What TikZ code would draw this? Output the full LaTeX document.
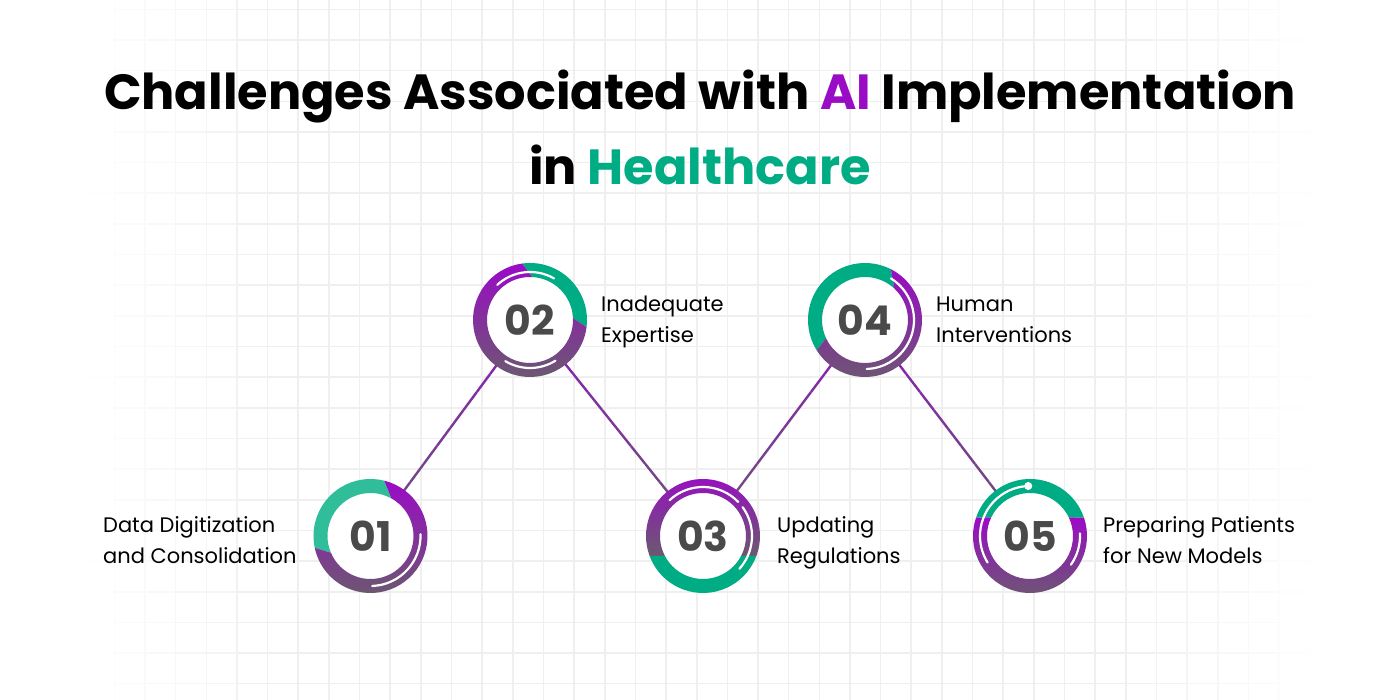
\documentclass[tikz,border=0pt]{standalone}
\usepackage{fontspec}
\setmainfont{Poppins}
\usetikzlibrary{calc}
\definecolor{pbright}{HTML}{9A0BC6}
\definecolor{pgray}{HTML}{6A5A6E}
\definecolor{grn}{HTML}{00AC84}
\definecolor{grnl}{HTML}{30BD9A}
\definecolor{digitc}{HTML}{4A4A4A}
\definecolor{gridc}{HTML}{EFEFEF}
\definecolor{lineTop}{HTML}{8A1CB6}
\definecolor{lineBot}{HTML}{6C5677}
\pgfdeclarelayer{gridlayer}
\pgfdeclarelayer{bglayer}
\pgfsetlayers{gridlayer,bglayer,main}
\begin{document}
\begin{tikzpicture}[x=1pt,y=1pt,
  digit/.style={circle, fill=white, minimum size=88pt, inner sep=0pt, text=digitc, font=\fontsize{41}{41}\selectfont\bfseries},
  lbl/.style={anchor=west, align=left, text=black, font=\fontsize{21}{31}\selectfont, inner sep=0pt},
  ttl/.style={anchor=base, inner sep=0pt, text=black, font=\fontsize{49.4}{60}\selectfont\bfseries},
  gridline/.style={line width=1.6pt},
  hl/.style={draw=white, line width=2.2pt, line cap=round},
  purp/.style={top color=pbright, bottom color=pgray},
  conn/.style={line width=2.4pt},
  ringseg/.style n args={5}{insert path={(#1.center) ++(#2:57pt) arc[start angle=#2,end angle=#3,radius=57pt] -- ($(#1.center)+(#4:43pt)$) arc[start angle=#4,end angle=#5,radius=43pt] -- cycle}},
]
\useasboundingbox (0,0) rectangle (1400,700);

% background and grid
\begin{pgfonlayer}{gridlayer}
\fill[white] (0,0) rectangle (1400,700);
\foreach \k in {0,...,45}{
  \pgfmathsetmacro\gx{22.4+30.65*\k}
  \pgfmathsetmacro\pc{100*max(0,min(1,min((\gx-80)/200,(1320-\gx)/200)))}
  \draw[gridline, draw=gridc!\pc!white] (\gx,0) -- (\gx,700);
}
\foreach \j in {0,...,22}{
  \pgfmathsetmacro\gy{700-9.4-30.65*\j}
  \foreach \k in {0,...,46}{
    \pgfmathsetmacro\xa{22.4+30.65*(\k-1)}
    \pgfmathsetmacro\xb{\xa+30.65}
    \pgfmathsetmacro\pc{100*max(0,min(1,min((\xa+15-80)/200,(1320-\xa-15)/200)))}
    \draw[gridline, draw=gridc!\pc!white] (\xa,\gy) -- (\xb,\gy);
  }
}
\end{pgfonlayer}

% title
\node[ttl] (title1) at (700,590) {Challenges Associated with \textcolor{pbright}{AI} Implementation};
\node[ttl] (title2) at (700,515) {in \textcolor{grn}{Healthcare}};

% circles with digits
\node[digit] (n1) at (370.5,164) {01};
\node[digit] (n2) at (530,380) {02};
\node[digit] (n3) at (703,164) {03};
\node[digit] (n4) at (865,380) {04};
\node[digit] (n5) at (1030,164) {05};

% connectors (gradient: purple at the upper circle, grey at the lower)
\begin{pgfonlayer}{bglayer}
\foreach \lo/\up in {n1/n2, n3/n2, n3/n4, n5/n4}{
  \foreach \i in {0,...,11}{
    \pgfmathsetmacro\fa{\i/12}
    \pgfmathsetmacro\fb{(\i+1)/12}
    \pgfmathsetmacro\pc{(\i+0.5)*100/12}
    \draw[conn, draw=lineTop!\pc!lineBot] ($(\lo.center)!\fa!(\up.center)$) -- ($(\lo.center)!\fb!(\up.center)$);
  }
}
\end{pgfonlayer}

% ring 01
\fill[grnl, ringseg={n1}{76}{192}{203}{61}];
\shade[purp, ringseg={n1}{76}{-168}{-157}{61}];
\draw[hl] ($(n1.center)+(2:50pt)$) arc[start angle=2, end angle=-88, radius=50pt];

% ring 02
\fill[grn, ringseg={n2}{98}{-7}{2.5}{87}];
\shade[purp, ringseg={n2}{98}{353}{362.5}{87}];
\draw[hl] ($(n2.center)+(133:48pt)$) arc[start angle=133, end angle=60, radius=48pt];
\draw[hl] ($(n2.center)+(-58:48pt)$) arc[start angle=-58, end angle=-121, radius=48pt];

% ring 03
\shade[purp, ringseg={n3}{-20.5}{200.5}{207.7}{-27.7}];
\fill[grn, ringseg={n3}{-20.5}{-159.5}{-152.3}{-27.7}];
\draw[hl] ($(n3.center)+(133:49pt)$) arc[start angle=133, end angle=44, radius=49pt];
\draw[hl] ($(n3.center)+(36:49pt)$) arc[start angle=36, end angle=-42, radius=49pt];

% ring 04
\fill[grn, ringseg={n4}{63}{212}{205}{47}];
\shade[purp, ringseg={n4}{63}{-148}{-155}{47}];
\draw[hl] ($(n4.center)+(58:49pt)$) arc[start angle=58, end angle=-88, radius=49pt];

% ring 05
\fill[grn, ringseg={n5}{18.9}{161.1}{154.5}{25.5}];
\shade[purp, ringseg={n5}{18.9}{-198.9}{-205.5}{25.5}];
\draw[hl] ($(n5.center)+(92:50pt)$) arc[start angle=92, end angle=212, radius=50pt];
\draw[hl] ($(n5.center)+(3:50pt)$) arc[start angle=3, end angle=-35, radius=50pt];
\fill[white] ($(n5.center)+(92:50pt)$) circle[radius=4pt];

% labels
\node[lbl] (t1) at (103,158.2) {\strut Data Digitization\\and Consolidation\strut};
\node[lbl] (t2) at (601,379.2) {\strut Inadequate\\Expertise\strut};
\node[lbl] (t3) at (777,158.2) {\strut Updating\\Regulations\strut};
\node[lbl] (t4) at (936,379.2) {\strut Human\\Interventions\strut};
\node[lbl] (t5) at (1103,158.2) {\strut Preparing Patients\\for New Models\strut};
\end{tikzpicture}
\end{document}
